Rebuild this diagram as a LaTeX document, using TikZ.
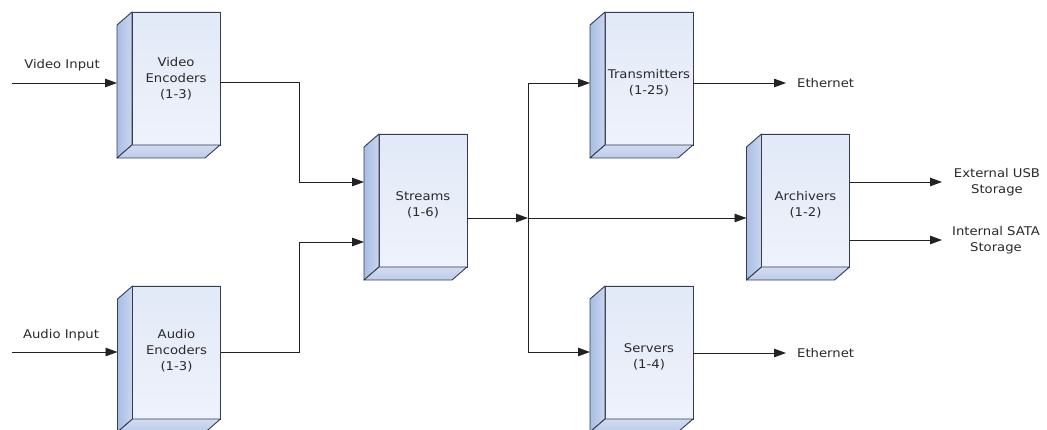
\documentclass[tikz,border=0pt]{standalone}
\usepackage{fontspec}
\setmainfont{DejaVu Sans}[FakeStretch=1.1]
\usetikzlibrary{arrows.meta}

\definecolor{edge}{HTML}{343C52}
\definecolor{wirecol}{HTML}{222222}
\definecolor{facetop}{HTML}{E2E9F7}
\definecolor{facebot}{HTML}{EEF2FB}
\definecolor{sidel}{HTML}{A8BDE4}
\definecolor{sider}{HTML}{CAD6EF}
\definecolor{baseA}{HTML}{BCCBEA}
\definecolor{baseB}{HTML}{D2DCF1}
\definecolor{inktext}{HTML}{2A2A2A}

% a box drawn as a front face with a left side and a bottom face behind it
\newcommand\drawcabinet[4]{% name, centre, caption, caption drop
  \node[front] (#1) at (#2) {};
  \path[sideface] (#1.north west) -- ([shift={(-15,13)}]#1.north west)
     -- ([shift={(-15,13)}]#1.south west) -- (#1.south west) -- cycle;
  \path[baseface] (#1.south west) -- ([shift={(-15,13)}]#1.south west)
     -- ([shift={(-15,13)}]#1.south east) -- (#1.south east) -- cycle;
  \node[caption] (#1-text) at ([shift={(0,#4)}]#1.center) {#3};
}

\begin{document}
\begin{tikzpicture}[x=1pt,y=-1pt,
  font=\fontsize{12}{15.8}\selectfont,
  front/.style={draw=edge, line width=0.9pt, top color=facetop, bottom color=facebot,
    minimum width=88pt, minimum height=133pt, inner sep=0pt, outer sep=0pt},
  sideface/.style={draw=edge, line width=0.9pt, left color=sidel, right color=sider, line join=round},
  baseface/.style={draw=edge, line width=0.9pt, top color=baseB, bottom color=baseA, line join=round},
  caption/.style={align=center, text=inktext, inner sep=0pt},
  wire/.style={draw=wirecol, line width=0.9pt},
  arrow/.style={wire, -{Triangle[length=12pt,width=8.5pt]}},
  tag/.style={text=inktext, inner sep=0pt}]

\fill[white] (0,0) rectangle (1047,430);
\useasboundingbox (0,0) rectangle (1047,430);

% boxes
\drawcabinet{ve}{176,78.5}{Video\\Encoders\\(1-3)}{0}
\drawcabinet{ae}{176.5,352.5}{Audio\\Encoders\\(1-3)}{-2}
\drawcabinet{st}{423,200.5}{Streams\\(1-6)}{4}
\drawcabinet{tx}{649,78.5}{Transmitters\\(1-25)}{4}
\drawcabinet{ar}{805.5,200.5}{Archivers\\(1-2)}{4}
\drawcabinet{sv}{649,352.5}{Servers\\(1-4)}{4}

% inputs
\node[tag] (vin) at (62,65) {Video Input};
\node[tag] (ain) at (61,335) {Audio Input};
\coordinate (vin-end) at (12,83);
\coordinate (ain-end) at (12,352);
\draw[arrow] (vin-end) -- ([xshift=-15pt]ve.west |- vin-end);
\draw[arrow] (ain-end) -- ([xshift=-15pt]ae.west |- ain-end);

% encoders into streams
\coordinate (vjoin) at (299,182);
\coordinate (ajoin) at (299,242);
\draw[arrow] ([shift={(0,3.5)}]ve.east) -| (vjoin) -- ([xshift=-15pt]st.west |- vjoin);
\draw[arrow] ([shift={(0,-0.5)}]ae.east) -| (ajoin) -- ([xshift=-15pt]st.west |- ajoin);

% streams fan out
\coordinate (hub) at (528,218);
\coordinate (bus-top) at (528,83);
\coordinate (bus-bot) at (528,352);
\draw[arrow] (st.east |- hub) -- (hub);
\draw[wire] (bus-top) -- (bus-bot);
\draw[arrow] (bus-top) -- ([xshift=-15pt]tx.west |- bus-top);
\draw[arrow] (hub) -- ([xshift=-15pt]ar.west |- hub);
\draw[arrow] (bus-bot) -- ([xshift=-15pt]sv.west |- bus-bot);

% outputs
\node[tag, anchor=west] (eth1) at (797,83) {Ethernet};
\node[tag, anchor=west] (eth2) at (797,353) {Ethernet};
\draw[arrow] (tx.east |- eth1) -- ([xshift=-11pt]eth1.west);
\draw[arrow] (sv.east |- eth2) -- ([xshift=-11pt]eth2.west);

\node[tag, align=center] (usb) at (997,182.5) {External USB\\Storage};
\node[tag, align=center] (sata) at (996,240.5) {Internal SATA\\Storage};
\coordinate (usb-tip) at (942,182);
\coordinate (sata-tip) at (942,240);
\draw[arrow] (ar.east |- usb-tip) -- (usb-tip);
\draw[arrow] (ar.east |- sata-tip) -- (sata-tip);

\end{tikzpicture}
\end{document}
